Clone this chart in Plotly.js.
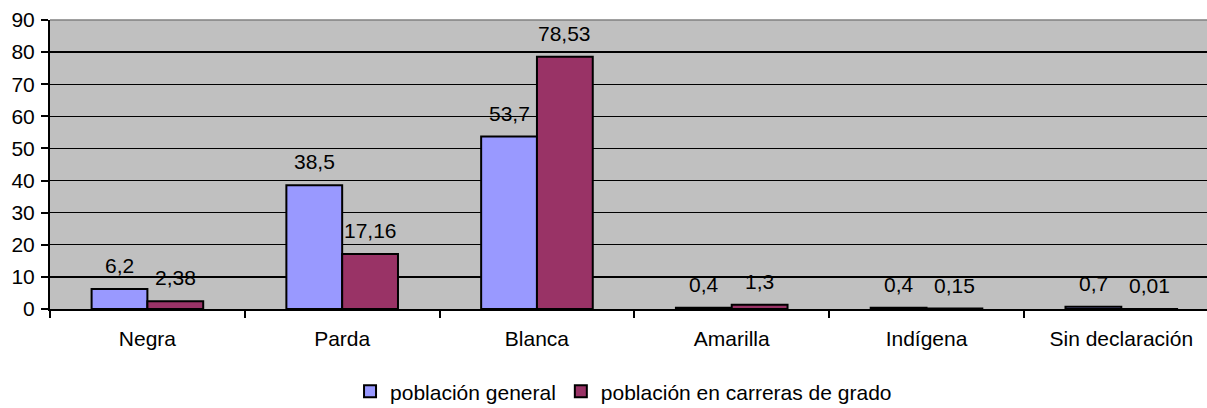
<!DOCTYPE html>
<html>
<head>
<meta charset="utf-8">
<script src="https://cdn.plot.ly/plotly-3.0.1.min.js"></script>
<style>html,body{margin:0;padding:0;overflow:hidden;background:#fff;}#chart{width:1207px;height:408px;}</style>
</head>
<body>
<div id="chart"></div>
<script>
const categories = ["Negra", "Parda", "Blanca", "Amarilla", "Indígena", "Sin declaración"];
const generalValues = [6.2, 38.5, 53.7, 0.4, 0.4, 0.7];
const gradoValues = [2.38, 17.16, 78.53, 1.3, 0.15, 0.01];
const seriesNames = ["población general", "población en carreras de grado"];
const yTicks = [0, 10, 20, 30, 40, 50, 60, 70, 80, 90];

const FONT = "Liberation Sans, Arial, sans-serif";
const FS = 21;
const BARGAP = 0.427;

function fmt(v) { return String(v).replace('.', ','); }

const traces = [
  {
    type: 'bar', name: seriesNames[0], x: categories, y: generalValues,
    marker: {color: '#9999FF', line: {color: '#000', width: 2}},
    hoverinfo: 'x+y'
  },
  {
    type: 'bar', name: seriesNames[1], x: categories, y: gradoValues,
    marker: {color: '#993366', line: {color: '#000', width: 2}},
    hoverinfo: 'x+y'
  }
];

// data labels, centred on each bar of the group (offset derived from bargap)
const half = (1 - BARGAP) / 4;
const annotations = [];
[generalValues, gradoValues].forEach(function (vals, s) {
  vals.forEach(function (v, i) {
    annotations.push({
      xref: 'x', yref: 'y', x: i + (s === 0 ? -half : half), y: v,
      text: fmt(v), showarrow: false, xanchor: 'center', yanchor: 'bottom',
      yshift: 10, font: {family: FONT, size: FS, color: '#000'}
    });
  });
});

const layout = {
  width: 1207, height: 408,
  margin: {l: 50, r: 0, t: 20, b: 99, pad: 0},
  paper_bgcolor: '#ffffff',
  plot_bgcolor: '#C0C0C0',
  font: {family: FONT, size: FS, color: '#000'},
  barmode: 'group', bargap: BARGAP, bargroupgap: 0,
  showlegend: true,
  legend: {
    orientation: 'h', xref: 'container', yref: 'container',
    x: 0.5166, xanchor: 'center', y: 0.04, yanchor: 'middle',
    font: {family: FONT, size: FS, color: '#000'},
    itemclick: false, itemdoubleclick: false, bgcolor: 'rgba(0,0,0,0)'
  },
  xaxis: {
    type: 'category', range: [-0.5, 5.44],
    showline: true, linecolor: '#000', linewidth: 2,
    ticks: 'outside', tickson: 'boundaries', ticklen: 7, tickwidth: 2, tickcolor: '#000',
    showgrid: false, zeroline: false,
    tickfont: {family: FONT, size: FS, color: '#000'},
    ticklabelstandoff: 10, fixedrange: true
  },
  yaxis: {
    range: [0, 90], tickvals: yTicks, ticktext: yTicks.map(String),
    showline: true, linecolor: '#000', linewidth: 2,
    ticks: 'outside', ticklen: 7, tickwidth: 2, tickcolor: '#000',
    showgrid: true, gridcolor: '#000', gridwidth: 1.3, zeroline: false,
    tickfont: {family: FONT, size: FS, color: '#000'},
    ticklabelstandoff: 2, fixedrange: true
  },
  annotations: annotations,
  shapes: [
    {type: 'line', xref: 'paper', yref: 'paper', x0: 0, x1: 1, y0: 1, y1: 1,
     line: {color: '#808080', width: 1.5}, layer: 'above'}
  ]
};

Plotly.newPlot('chart', traces, layout, {displayModeBar: false, staticPlot: true});
</script>
</body>
</html>
